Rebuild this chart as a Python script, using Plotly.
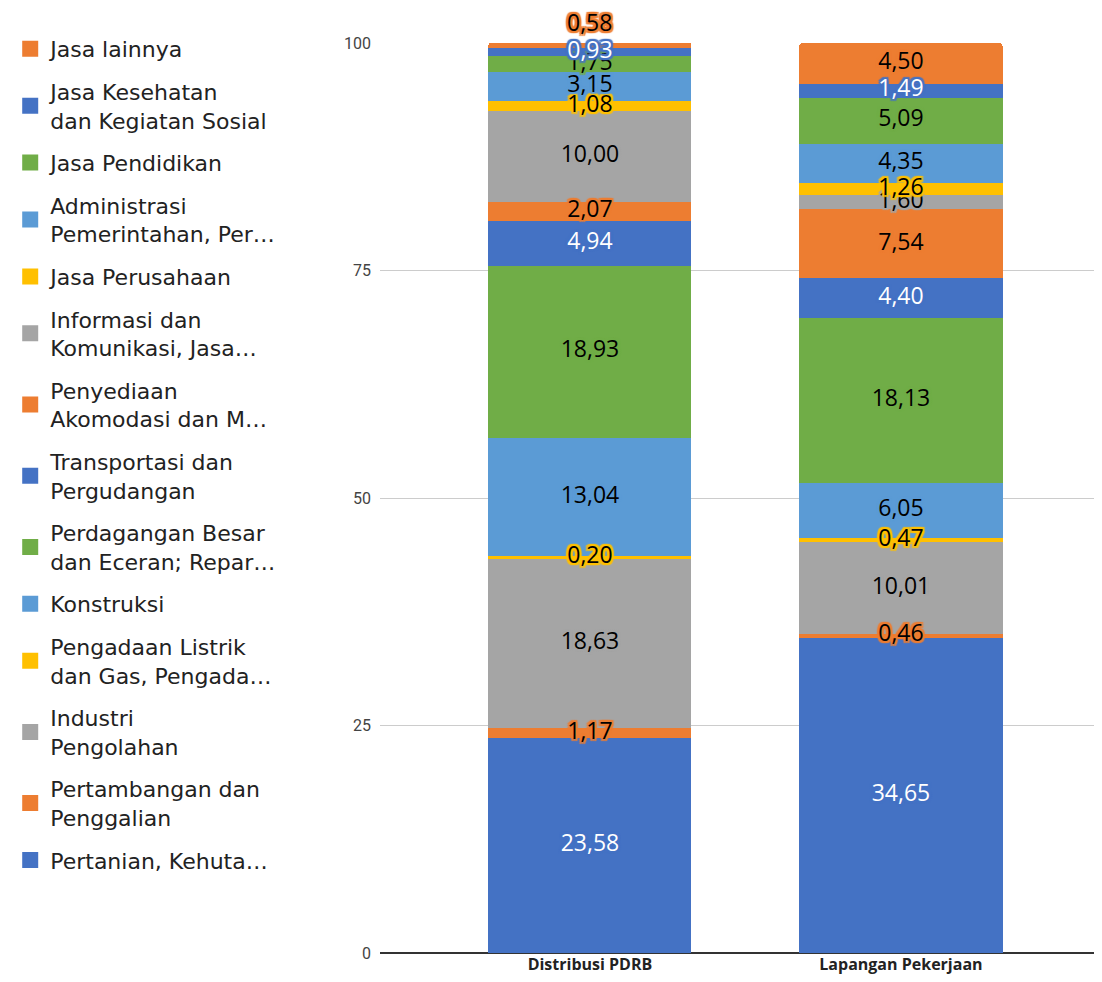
import plotly.graph_objects as go

categories = ["Distribusi PDRB", "Lapangan Pekerjaan"]

series_names = [
    "Pertanian, Kehuta…",
    "Pertambangan dan<br>Penggalian",
    "Industri<br>Pengolahan",
    "Pengadaan Listrik<br>dan Gas, Pengada…",
    "Konstruksi",
    "Perdagangan Besar<br>dan Eceran; Repar…",
    "Transportasi dan<br>Pergudangan",
    "Penyediaan<br>Akomodasi dan M…",
    "Informasi dan<br>Komunikasi, Jasa…",
    "Jasa Perusahaan",
    "Administrasi<br>Pemerintahan, Per…",
    "Jasa Pendidikan",
    "Jasa Kesehatan<br>dan Kegiatan Sosial",
    "Jasa lainnya",
]

pertanian = [23.58, 34.65]
pertambangan = [1.17, 0.46]
industri = [18.63, 10.01]
listrik = [0.20, 0.47]
konstruksi = [13.04, 6.05]
perdagangan = [18.93, 18.13]
transportasi = [4.94, 4.40]
akomodasi = [2.07, 7.54]
informasi = [10.00, 1.60]
perusahaan = [1.08, 1.26]
administrasi = [3.15, 4.35]
pendidikan = [1.75, 5.09]
kesehatan = [0.93, 1.49]
lainnya = [0.58, 4.50]

series_values = [pertanian, pertambangan, industri, listrik, konstruksi, perdagangan,
                 transportasi, akomodasi, informasi, perusahaan, administrasi,
                 pendidikan, kesehatan, lainnya]

BLUE, ORANGE, GRAY, YELLOW, LBLUE, GREEN = "#4472C4", "#ED7D31", "#A5A5A5", "#FFC000", "#5B9BD5", "#70AD47"
colors = [BLUE, ORANGE, GRAY, YELLOW, LBLUE, GREEN, BLUE, ORANGE, GRAY, YELLOW, LBLUE, GREEN, BLUE, ORANGE]
text_colors = ["white" if c == BLUE else "black" for c in colors]
# label placement (style): the smallest top label is pushed above the bar
label_outside = [[False, False] for _ in series_values]
label_outside[-1] = [True, False]

tick_vals = [0, 25, 50, 75, 100]
tick_text = ["0", "25", "50", "75", "100"]

LABEL_FONT = "Open Sans"
LABEL_SIZE = 23


def outline(col):
    return ", ".join(f"{dx}px {dy}px 1px {col}" for dx, dy in
                     [(-2, -2), (2, -2), (-2, 2), (2, 2), (0, 2), (0, -2), (2, 0), (-2, 0)])


fig = go.Figure()
bar_width = 0.653

for i, (name, vals, col) in enumerate(zip(series_names, series_values, colors)):
    fig.add_trace(go.Bar(
        x=categories, y=vals, name=name, marker=dict(color=col, line=dict(width=0)),
        width=bar_width, showlegend=False, hoverinfo="skip",
    ))

annotations = []
cum = [0.0, 0.0]
for i, (vals, col, tc) in enumerate(zip(series_values, colors, text_colors)):
    ys, texts = [], []
    for j, v in enumerate(vals):
        lab = f"{v:.2f}".replace(".", ",")
        ys.append(cum[j] + v / 2)
        if label_outside[i][j]:
            texts.append("")
            annotations.append(dict(
                x=categories[j], y=cum[j] + v / 2, xref="x", yref="y",
                text=lab, showarrow=False, yanchor="bottom", yshift=5,
                font=dict(family=LABEL_FONT, size=LABEL_SIZE, color=tc, shadow=outline(col)),
            ))
        else:
            texts.append(lab)
        cum[j] += v
    fig.add_trace(go.Scatter(
        x=categories, y=ys, mode="text", text=texts,
        textposition="middle center",
        textfont=dict(family=LABEL_FONT, size=LABEL_SIZE, color=tc, shadow=outline(col)),
        showlegend=False, hoverinfo="skip", cliponaxis=False,
    ))

# legend entries (top series first)
for k in range(len(series_names) - 1, -1, -1):
    fig.add_trace(go.Scatter(
        x=[None], y=[None], mode="markers", name=series_names[k],
        marker=dict(symbol="square", size=16, color=colors[k]),
        legendgroup=f"g{k}", showlegend=True, hoverinfo="skip",
    ))

fig.update_layout(
    width=1102, height=982,
    barmode="stack", barcornerradius=3,
    paper_bgcolor="white", plot_bgcolor="white",
    margin=dict(l=372, r=10, t=35, b=37, autoexpand=False),
    font=dict(family="Roboto", color="#222222"),
    annotations=annotations,
    legend=dict(
        xref="container", yref="container", x=0.002, y=1 - 20 / 982,
        xanchor="left", yanchor="top", maxheight=1.0,
        traceorder="grouped", tracegroupgap=11, itemsizing="trace",
        font=dict(family="DejaVu Sans", size=22, color="#222222"),
        itemclick=False, itemdoubleclick=False,
    ),
    xaxis=dict(
        range=[-0.675, 1.64], showgrid=False, showline=False, ticks="",
        tickfont=dict(family="Open Sans", size=16, color="#222222", weight="bold"),
        fixedrange=True, automargin=False,
    ),
    yaxis=dict(
        range=[0, 100], tickvals=tick_vals, ticktext=tick_text,
        showgrid=True, gridcolor="#CCCCCC", gridwidth=1,
        zeroline=True, zerolinecolor="#333333", zerolinewidth=2,
        tickfont=dict(family="Roboto", size=16, color="#444444"),
        ticklabelstandoff=8, fixedrange=True, automargin=False,
    ),
)

fig.write_html("out.html")
